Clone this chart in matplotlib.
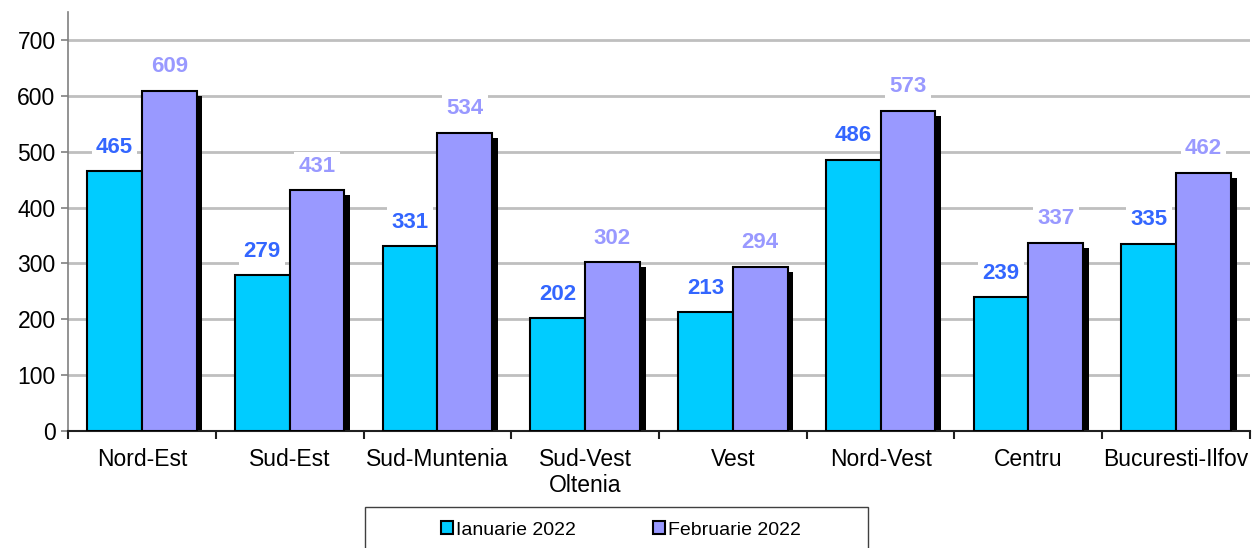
import matplotlib.pyplot as plt
import numpy as np
from matplotlib.patches import Rectangle

plt.rcParams["font.family"] = ["Liberation Sans", "DejaVu Sans"]

regions = ["Nord-Est", "Sud-Est", "Sud-Muntenia", "Sud-Vest\nOltenia", "Vest",
           "Nord-Vest", "Centru", "Bucuresti-Ilfov"]
ian = [465, 279, 331, 202, 213, 486, 239, 335]
feb = [609, 431, 534, 302, 294, 573, 337, 462]
series_names = ["Ianuarie 2022", "Februarie 2022"]

CYAN = "#00CCFF"
PURPLE = "#9999FF"
LBL_IAN = "#3366FF"
LBL_FEB = "#9999FF"
AXIS = "#808080"

fig = plt.figure(figsize=(12.55, 5.48), dpi=100)
ax = fig.add_axes([0.0542, 0.2135, 0.9418, 0.7645])

x = np.arange(len(regions))
w = 0.37
sdx, sdy = 0.04, 9

# drop shadows behind the bars (clipped at the x axis)
for vals, off in ((ian, -w / 2), (feb, w / 2)):
    for xi, v in zip(x, vals):
        ax.add_patch(Rectangle((xi + off - w / 2 + sdx, -sdy), w, v, fc="black",
                               ec="none", zorder=2))

b1 = ax.bar(x - w / 2, ian, w, color=CYAN, edgecolor="black", lw=1.5, zorder=3,
            label=series_names[0])
b2 = ax.bar(x + w / 2, feb, w, color=PURPLE, edgecolor="black", lw=1.5, zorder=3,
            label=series_names[1])

for vals, off, col in ((ian, -w / 2, LBL_IAN), (feb, w / 2, LBL_FEB)):
    for xi, v in zip(x, vals):
        ax.text(xi + off, v + 43, str(v), ha="center", va="center", color=col,
                fontsize=16, fontweight="bold", zorder=4,
                bbox=dict(fc="white", ec="none", pad=3))

ax.set_xlim(-0.5, len(regions) - 0.5)
ax.set_ylim(0, 750)
ax.set_yticks(range(0, 701, 100))
ax.yaxis.grid(True, color="#BFBFBF", lw=2)
ax.set_axisbelow(True)
ax.tick_params(axis="y", labelsize=16.5, direction="out", length=5, width=1.2,
               color=AXIS, pad=4)

ax.set_xticks(np.arange(-0.5, len(regions), 1), minor=False)
ax.set_xticklabels([])
ax.tick_params(axis="x", direction="out", length=6, width=1.5, color="#202020")
ax.set_xticks(x, minor=True)
ax.set_xticklabels(regions, minor=True, fontsize=16.5, linespacing=1.2)
ax.tick_params(axis="x", which="minor", length=0, pad=12)

for s in ["top", "right"]:
    ax.spines[s].set_visible(False)
ax.spines["left"].set_linewidth(1.2)
ax.spines["left"].set_color(AXIS)
ax.spines["bottom"].set_linewidth(1.5)
ax.spines["bottom"].set_color("#202020")

# legend frame runs off the bottom edge
fig.add_artist(Rectangle((365 / 1255, -0.05), 503 / 1255, 41 / 548 + 0.05,
                         transform=fig.transFigure, fill=False, ec="#404040", lw=1))
fig.legend(handles=[b1, b2], loc="center", bbox_to_anchor=(621 / 1255, 1 - 530 / 548),
           ncol=2, fontsize=14, frameon=False,
           handlelength=0.6, handleheight=0.6, handletextpad=0.15,
           columnspacing=4.0)

fig.savefig("out.png", dpi=100)
